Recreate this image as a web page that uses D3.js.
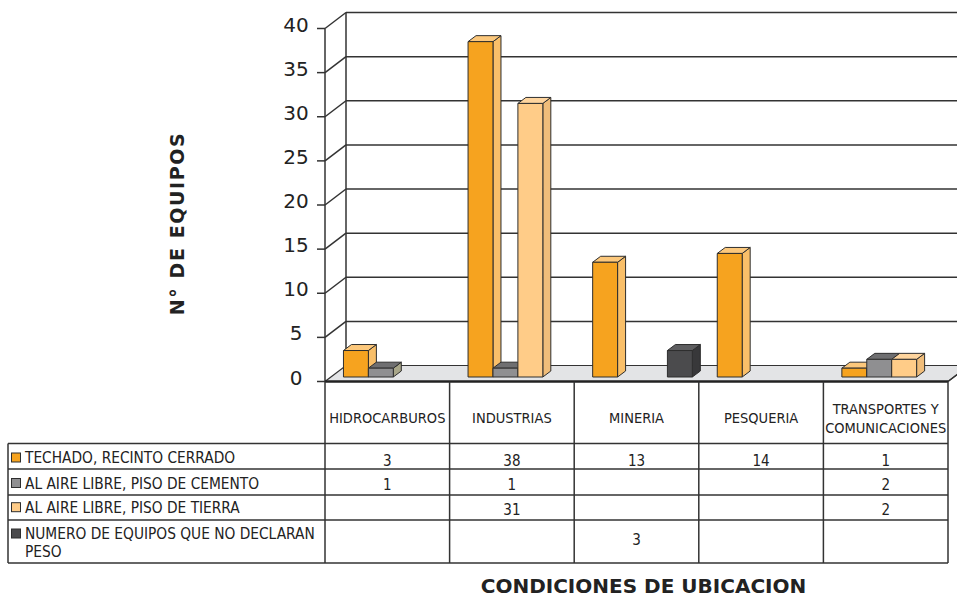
<!DOCTYPE html>
<html>
<head>
<meta charset="utf-8">
<script src="https://cdn.jsdelivr.net/npm/d3@7"></script>
<style>
  html, body { margin: 0; padding: 0; background: #fff; }
  svg { display: block; }
  .tbl { font-family: "DejaVu Sans Condensed", "DejaVu Sans", sans-serif; font-stretch: condensed; fill: #222; }
</style>
</head>
<body>
<script>
// Categories (columns of the data table) and their printed labels
const categories = ["HIDROCARBUROS", "INDUSTRIAS", "MINERIA", "PESQUERIA", "TRANSPORTES Y COMUNICACIONES"];
const categoryLabels = [["HIDROCARBUROS"], ["INDUSTRIAS"], ["MINERIA"], ["PESQUERIA"], ["TRANSPORTES Y", "COMUNICACIONES"]];

// Series names (rows of the data table)
const seriesNames = [
  "TECHADO, RECINTO CERRADO",
  "AL AIRE LIBRE, PISO DE CEMENTO",
  "AL AIRE LIBRE, PISO DE TIERRA",
  "NUMERO DE EQUIPOS QUE NO DECLARAN PESO"
];
const seriesLabelLines = [
  ["TECHADO, RECINTO CERRADO"],
  ["AL AIRE LIBRE, PISO DE CEMENTO"],
  ["AL AIRE LIBRE, PISO DE TIERRA"],
  ["NUMERO DE EQUIPOS QUE NO DECLARAN", "PESO"]
];

// Series values per category (null = no equipment reported)
const techado    = [3, 38, 13, 14, 1];
const cemento    = [1, 1, null, null, 2];
const tierra     = [null, 31, null, null, 2];
const noDeclaran = [null, null, 3, null, null];

// Value axis ticks
const yTicks = [0, 5, 10, 15, 20, 25, 30, 35, 40];

const seriesValues = [techado, cemento, tierra, noDeclaran];

// Face colours per series: front, top, side
const seriesColors = [
  { front: "#F6A31F", top: "#FCC87C", side: "#F9BF69" },
  { front: "#8F8F91", top: "#6F6F71", side: "#A8A689" },
  { front: "#FFCC88", top: "#FFD59E", side: "#F0BD7A" },
  { front: "#4B4B4D", top: "#5E5E60", side: "#38383A" }
];

const W = 957, H = 598;
const plotLeft = 325, plotRight = 948;
const floorY = 381.5;
const wall = { dx: 21, dy: -16 };       // depth of the chart box
const barShift = { dx: 6, dy: -4.5 };   // bars sit slightly back on the floor
const barDepth = { dx: 8, dy: -6 };     // depth of each bar

const svg = d3.select("body").append("svg").attr("width", W).attr("height", H);

const y = d3.scaleLinear().domain([0, 40]).range([floorY, 28.5]);
const x = d3.scaleBand().domain(categories).range([plotLeft, plotRight]).padding(0);
const xi = d3.scaleBand().domain(seriesNames).range([0, x.bandwidth()]).paddingInner(0).paddingOuter(0.5);

const lineCol = "#333";

// ---- Back wall gridlines
const grid = svg.append("g");
grid.selectAll("line.back").data(yTicks.filter(v => v > 0)).join("line")
  .attr("x1", plotLeft + wall.dx).attr("x2", W + 40)
  .attr("y1", v => y(v) + wall.dy).attr("y2", v => y(v) + wall.dy)
  .attr("stroke", lineCol).attr("stroke-width", 1.5);
// Left wall diagonals
grid.selectAll("line.side").data(yTicks.filter(v => v > 0)).join("line")
  .attr("x1", plotLeft).attr("x2", plotLeft + wall.dx)
  .attr("y1", v => y(v)).attr("y2", v => y(v) + wall.dy)
  .attr("stroke", lineCol).attr("stroke-width", 1.5);
// Back wall left edge
grid.append("line")
  .attr("x1", plotLeft + wall.dx).attr("x2", plotLeft + wall.dx)
  .attr("y1", y(40) + wall.dy).attr("y2", y(0) + wall.dy)
  .attr("stroke", lineCol).attr("stroke-width", 1.5);

// ---- Floor
svg.append("polygon")
  .attr("points", [
    [plotLeft, y(0)], [plotRight, y(0)],
    [plotRight + wall.dx, y(0) + wall.dy], [plotLeft + wall.dx, y(0) + wall.dy]
  ].map(p => p.join(",")).join(" "))
  .attr("fill", "#E3E4E6").attr("stroke", lineCol).attr("stroke-width", 1.2);

// ---- Value axis (front)
const axis = svg.append("g");
axis.append("line")
  .attr("x1", plotLeft).attr("x2", plotLeft)
  .attr("y1", y(40)).attr("y2", y(0))
  .attr("stroke", lineCol).attr("stroke-width", 1.5);
axis.selectAll("line.tick").data(yTicks).join("line")
  .attr("x1", plotLeft - 8).attr("x2", plotLeft)
  .attr("y1", v => y(v)).attr("y2", v => y(v))
  .attr("stroke", lineCol).attr("stroke-width", 1.5);
axis.selectAll("text").data(yTicks).join("text")
  .attr("x", 296).attr("y", v => y(v) + 3)
  .attr("text-anchor", "middle")
  .attr("font-family", "DejaVu Sans, sans-serif").attr("font-size", 20)
  .attr("fill", "#222")
  .text(d => d);

// ---- 3D bars
const bars = svg.append("g");
categories.forEach((c, ci) => {
  seriesNames.forEach((s, si) => {
    const v = seriesValues[si][ci];
    if (v == null) return;
    const x0 = x(c) + xi(s) + barShift.dx;
    const x1 = x0 + xi.bandwidth();
    const yb = y(0) + barShift.dy;
    const yt = yb - (y(0) - y(v));
    const col = seriesColors[si];
    const g = bars.append("g").attr("stroke", "#2E2E2E").attr("stroke-width", 1).attr("stroke-linejoin", "round");
    // side face
    g.append("polygon").attr("fill", col.side).attr("points", [
      [x1, yb], [x1 + barDepth.dx, yb + barDepth.dy], [x1 + barDepth.dx, yt + barDepth.dy], [x1, yt]
    ].map(p => p.join(",")).join(" "));
    // top face
    g.append("polygon").attr("fill", col.top).attr("points", [
      [x0, yt], [x1, yt], [x1 + barDepth.dx, yt + barDepth.dy], [x0 + barDepth.dx, yt + barDepth.dy]
    ].map(p => p.join(",")).join(" "));
    // front face
    g.append("rect").attr("fill", col.front)
      .attr("x", x0).attr("y", yt).attr("width", x1 - x0).attr("height", yb - yt);
  });
});

// Front edge of the floor and right depth edge
svg.append("line")
  .attr("x1", plotLeft).attr("x2", plotRight)
  .attr("y1", y(0)).attr("y2", y(0))
  .attr("stroke", "#222").attr("stroke-width", 2.5);
svg.append("line")
  .attr("x1", plotRight).attr("x2", plotRight + wall.dx)
  .attr("y1", y(0)).attr("y2", y(0) + wall.dy)
  .attr("stroke", lineCol).attr("stroke-width", 1.5);

// ---- Data table
const tableLeft = 8;
const rowEdges = [443.5, 469, 495, 520, 563];
const table = svg.append("g");
const colEdges = categories.map(c => x(c)).concat([plotRight]);

// horizontal rules
rowEdges.forEach(yy => {
  table.append("line").attr("x1", tableLeft).attr("x2", plotRight)
    .attr("y1", yy).attr("y2", yy).attr("stroke", lineCol).attr("stroke-width", 1.5);
});
// vertical rules
colEdges.forEach(xx => {
  table.append("line").attr("x1", xx).attr("x2", xx)
    .attr("y1", y(0)).attr("y2", rowEdges[rowEdges.length - 1])
    .attr("stroke", lineCol).attr("stroke-width", 1.5);
});
table.append("line").attr("x1", tableLeft).attr("x2", tableLeft)
  .attr("y1", rowEdges[0]).attr("y2", rowEdges[rowEdges.length - 1])
  .attr("stroke", lineCol).attr("stroke-width", 1.5);

// category header labels
categories.forEach((c, ci) => {
  const lines = categoryLabels[ci];
  const cx = x(c) + x.bandwidth() / 2;
  const base = lines.length === 1 ? [422.5] : [414, 432.5];
  lines.forEach((ln, li) => {
    table.append("text").attr("class", "tbl")
      .attr("x", cx).attr("y", base[li])
      .attr("text-anchor", "middle").attr("font-size", 14.5)
      .text(ln);
  });
});

// series rows: legend key, label and values
const labelBase = [[463], [488.5], [512.7], [539, 557]];
const valueBase = [466, 489.5, 515, 545];
seriesNames.forEach((s, si) => {
  table.append("rect")
    .attr("x", 11.5).attr("y", labelBase[si][0] - 10)
    .attr("width", 9).attr("height", 9)
    .attr("fill", seriesColors[si].front).attr("stroke", "#2E2E2E").attr("stroke-width", 1);
  seriesLabelLines[si].forEach((ln, li) => {
    table.append("text").attr("class", "tbl")
      .attr("x", 25).attr("y", labelBase[si][li])
      .attr("font-size", 15.3)
      .text(ln);
  });
  categories.forEach((c, ci) => {
    const v = seriesValues[si][ci];
    if (v == null) return;
    table.append("text").attr("class", "tbl")
      .attr("x", x(c) + x.bandwidth() / 2).attr("y", valueBase[si])
      .attr("text-anchor", "middle").attr("font-size", 15)
      .text(v);
  });
});

// ---- Axis titles
svg.append("text")
  .attr("transform", "translate(183.5,223.5) rotate(-90)")
  .attr("text-anchor", "middle")
  .attr("font-family", "DejaVu Sans, sans-serif").attr("font-weight", "bold").attr("font-size", 19)
  .attr("letter-spacing", 1.6)
  .attr("fill", "#222")
  .text("N° DE EQUIPOS");
svg.append("text")
  .attr("x", 643.5).attr("y", 593)
  .attr("text-anchor", "middle")
  .attr("font-family", "DejaVu Sans, sans-serif").attr("font-weight", "bold").attr("font-size", 20)
  .attr("fill", "#222")
  .text("CONDICIONES DE UBICACION");
</script>
</body>
</html>
